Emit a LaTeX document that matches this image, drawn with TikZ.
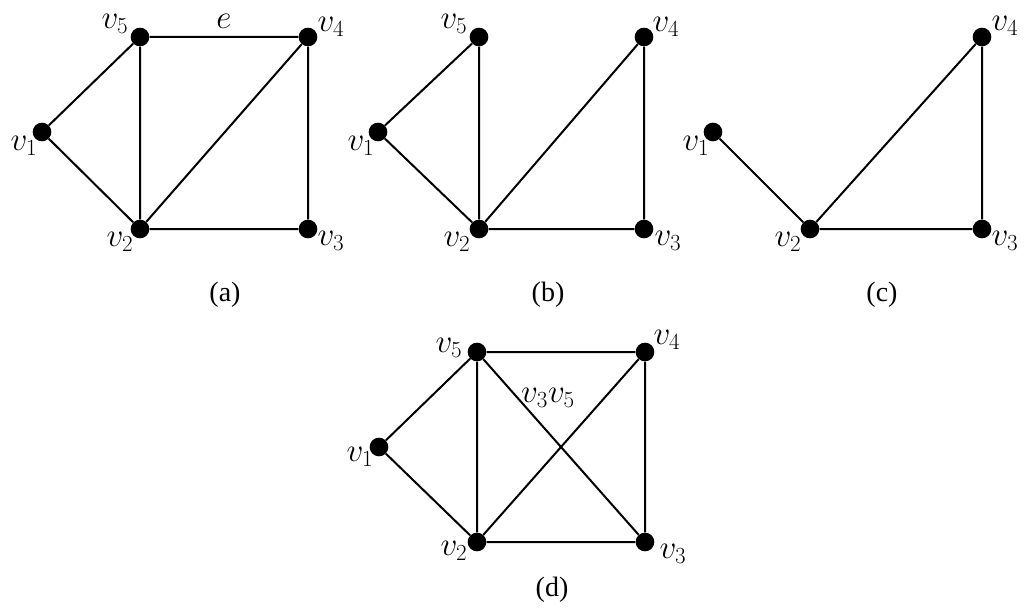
\documentclass[tikz,border=0pt]{standalone}
\usepackage{fontspec}
\setmainfont{Liberation Serif}
\usepackage{tikz}
\usetikzlibrary{positioning}

\tikzset{
  vertex/.style={circle, fill=black, inner sep=0pt, minimum size=14pt},
  edge/.style={black, line width=1.5pt},
  vlabel/.style={inner sep=0pt, font=\fontsize{24}{28}\selectfont},
  caption/.style={inner sep=0pt, font=\fontsize{21}{24}\selectfont}
}

\begin{document}
\begin{tikzpicture}[x=0.75pt,y=-0.75pt]
  \path[use as bounding box] (0,0) rectangle (1024,610);

  % Graph (a)
  \node[vertex] (a1) at (42,132) {};
  \node[vertex] (a2) at (140,229) {};
  \node[vertex] (a3) at (308,229) {};
  \node[vertex] (a4) at (308,37) {};
  \node[vertex] (a5) at (140,37) {};
  \draw[edge] (a1) -- (a5) -- (a4) -- (a3) -- (a2) -- (a1);
  \draw[edge] (a5) -- (a2) -- (a4);
  \node[vlabel] (la1) at (24,146) {$v_1$};
  \node[vlabel] (la2) at (120,242) {$v_2$};
  \node[vlabel] (la3) at (331,241) {$v_3$};
  \node[vlabel] (la4) at (331,27) {$v_4$};
  \node[vlabel] (la5) at (115,24) {$v_5$};
  \node[vlabel] (le) at (224,21) {$e$};
  \node[caption] (capa) at (225,295) {(a)};

  % Graph (b)
  \node[vertex] (b1) at (378,132) {};
  \node[vertex] (b2) at (479,229) {};
  \node[vertex] (b3) at (644,229) {};
  \node[vertex] (b4) at (644,37) {};
  \node[vertex] (b5) at (479,37) {};
  \draw[edge] (b1) -- (b5) -- (b2) -- (b1);
  \draw[edge] (b2) -- (b4) -- (b3) -- (b2);
  \node[vlabel] (lb1) at (361,146) {$v_1$};
  \node[vlabel] (lb2) at (457,242) {$v_2$};
  \node[vlabel] (lb3) at (668,241) {$v_3$};
  \node[vlabel] (lb4) at (666,27) {$v_4$};
  \node[vlabel] (lb5) at (454,24) {$v_5$};
  \node[caption] (capb) at (548,295) {(b)};

  % Graph (c)
  \node[vertex] (c1) at (713,132) {};
  \node[vertex] (c2) at (810,229) {};
  \node[vertex] (c3) at (982,229) {};
  \node[vertex] (c4) at (982,37) {};
  \draw[edge] (c1) -- (c2) -- (c3) -- (c4) -- (c2);
  \node[vlabel] (lc1) at (696,146) {$v_1$};
  \node[vlabel] (lc2) at (788,242) {$v_2$};
  \node[vlabel] (lc3) at (1005,241) {$v_3$};
  \node[vlabel] (lc4) at (1005,26) {$v_4$};
  \node[caption] (capc) at (882,295) {(c)};

  % Graph (d)
  \node[vertex] (d1) at (379,447) {};
  \node[vertex] (d2) at (477,542) {};
  \node[vertex] (d3) at (645,542) {};
  \node[vertex] (d4) at (645,352) {};
  \node[vertex] (d5) at (477,352) {};
  \draw[edge] (d1) -- (d5) -- (d4) -- (d3) -- (d2) -- (d1);
  \draw[edge] (d5) -- (d2) -- (d4);
  \draw[edge] (d5) -- (d3);
  \node[vlabel] (ld1) at (360,457) {$v_1$};
  \node[vlabel] (ld2) at (454,551) {$v_2$};
  \node[vlabel] (ld3) at (673,554) {$v_3$};
  \node[vlabel] (ld4) at (667,340) {$v_4$};
  \node[vlabel] (ld5) at (449,348) {$v_5$};
  \node[vlabel] (ld35) at (548,398) {$v_3v_5$};
  \node[caption] (capd) at (552,590) {(d)};
\end{tikzpicture}
\end{document}
